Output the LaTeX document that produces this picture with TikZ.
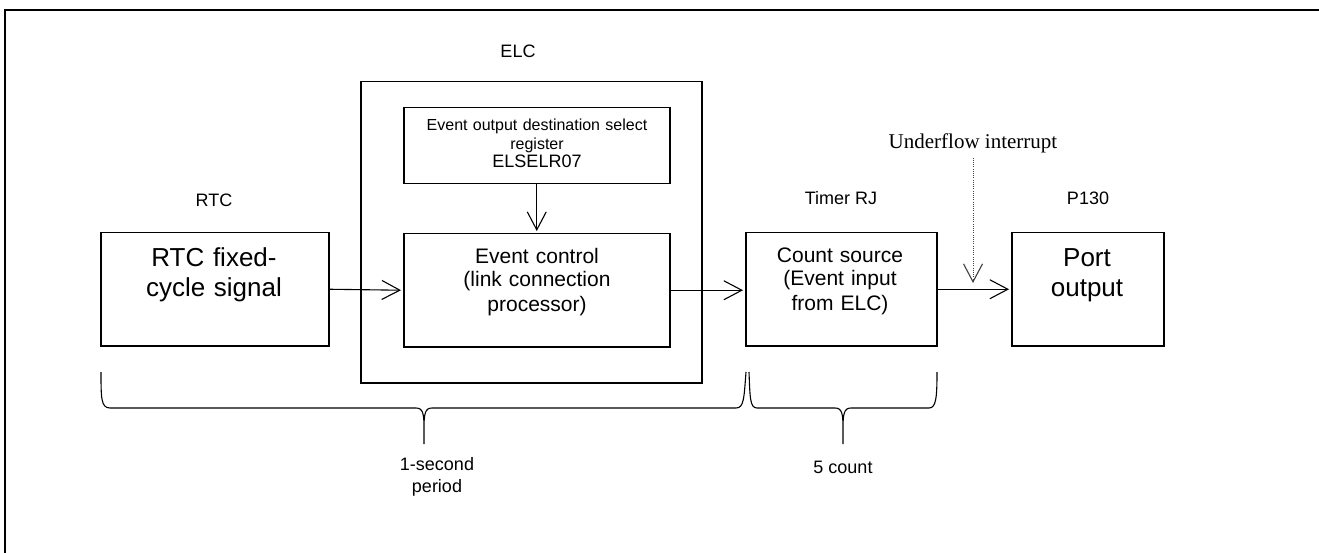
\documentclass[tikz,border=0pt]{standalone}
\usepackage{fontspec}
\setmainfont{Liberation Sans}
\newfontfamily\timesf{Liberation Serif}
\usetikzlibrary{arrows.meta}
\tikzset{
  box/.style={draw, line width=1.5pt, inner sep=0pt, anchor=north west},
  txt/.style={inner sep=0pt, anchor=base, align=center, text width=#1},
  txt/.default=300pt,
  lbl/.style={inner sep=0pt, anchor=base, font=\fontsize{18}{22}\selectfont},
  tipv/.tip={Straight Barb[length=18pt,width=19pt,line width=1.1pt]},
  arr/.style={line width=1.1pt, -tipv, shorten >=2pt},
  dotarr/.style={line width=0.9pt, draw=black!75, dash pattern=on 1pt off 1.2pt, -tipv},
  brace/.style={line width=1.1pt}
}
\begin{document}
\begin{tikzpicture}[x=1pt,y=-1pt]
\useasboundingbox (0,0) rectangle (1319,553);
% outer frame (top and left)
\draw[line width=2.2pt] (1319,10) -- (5,10) -- (5,553);

% boxes
\node[box, minimum width=228pt, minimum height=113pt] (rtcbox) at (100,232) {};
\node[box, minimum width=341pt, minimum height=301pt] (elcbox) at (360,81) {};
\node[box, minimum width=266pt, minimum height=76pt] (regbox) at (403,107) {};
\node[box, minimum width=266pt, minimum height=113pt] (ecbox) at (403,233) {};
\node[box, minimum width=191pt, minimum height=113pt] (timerbox) at (745,232) {};
\node[box, minimum width=152pt, minimum height=113pt] (portbox) at (1011,232) {};

% labels
\node[lbl] (elclbl) at (518,58) {ELC};
\node[lbl] (rtclbl) at (214,207) {RTC};
\node[lbl] (timerlbl) at (841,205) {Timer RJ};
\node[lbl] (portlbl) at (1088,205) {P130};

% box texts
\node[txt=225pt, font=\fontsize{26}{29}\selectfont] (rtctext) at (214,267) {RTC fixed-\\cycle signal};
\node[txt=262pt, font=\fontsize{16}{19}\selectfont] (regtext) at (537,131) {Event output destination select\\register\\[-1pt]{\fontsize{18}{22}\selectfont ELSELR07}};
\node[txt=262pt, font=\fontsize{21}{24}\selectfont] (ectext) at (537,263) {Event control\\(link connection\\processor)};
\node[txt=188pt, font=\fontsize{21}{24}\selectfont] (timertext) at (840,262) {Count source\\(Event input\\from ELC)};
\node[txt=150pt, font=\fontsize{26}{29}\selectfont] (porttext) at (1087,267) {Port\\output};

% underflow
\node[inner sep=0pt, anchor=base, font=\timesf\fontsize{21}{24}\selectfont] (uf) at (973,149) {Underflow interrupt};
\coordinate (uftip) at (973,283);
\draw[dotarr] ([yshift=-4pt]uf.south) -- (uftip);

% connectors
\draw[arr] (rtcbox.east) -- (ecbox.west);
\draw[arr] (regbox.south) -- (ecbox.north);
\draw[arr] (ecbox.east) -- (ecbox.east -| timerbox.west);
\draw[arr] (timerbox.east) -- (portbox.west);

% braces
\draw[brace] (101,372) .. controls (101,398) and (101,408) .. (110,408) -- (416,408)
  .. controls (423,408) and (424,414) .. (424,428) -- (424,444)
  (424,428) .. controls (424,414) and (425,408) .. (432,408) -- (736,408)
  .. controls (744,408) and (744,398) .. (746,372);
\draw[brace] (749,372) .. controls (750,398) and (750,408) .. (757,408) -- (835,408)
  .. controls (842,408) and (843,414) .. (843,428) -- (843,444)
  (843,428) .. controls (843,414) and (844,408) .. (851,408) -- (929,408)
  .. controls (936,408) and (937,398) .. (937,372);

% brace labels
\node[txt=120pt, font=\fontsize{18}{22}\selectfont] (seclbl) at (437,470) {1-second\\period};
\node[lbl] (cntlbl) at (843,473) {5 count};
\end{tikzpicture}
\end{document}
